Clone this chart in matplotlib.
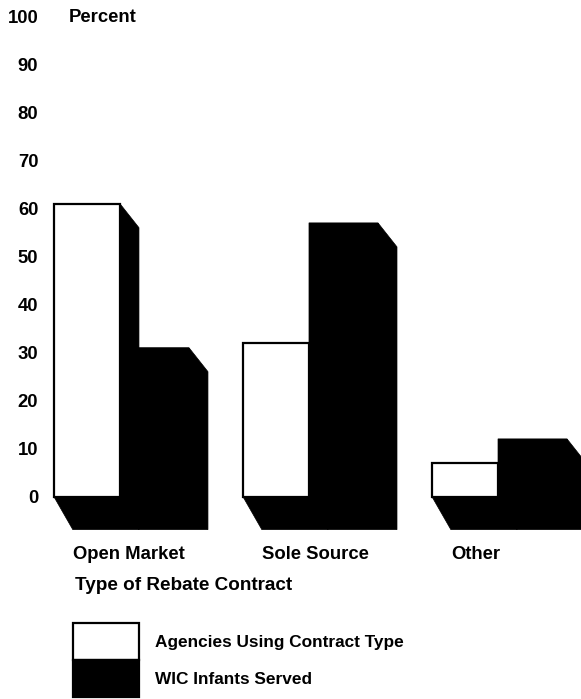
import matplotlib.pyplot as plt
from matplotlib.patches import Polygon, Rectangle

plt.rcParams["font.family"] = ["Liberation Sans", "DejaVu Sans"]
plt.rcParams["font.weight"] = "bold"

categories = ["Open Market", "Sole Source", "Other"]
agencies = [61, 32, 7]      # % of agencies using contract type
infants = [31, 57, 12]      # % of WIC infants served
yticks = [0, 10, 20, 30, 40, 50, 60, 70, 80, 90, 100]
legend_labels = ["Agencies Using Contract Type", "WIC Infants Served"]

W, H = 581, 699
fig = plt.figure(figsize=(W / 100, H / 100), dpi=100)
ax = fig.add_axes([40 / W, 1 - 544.5 / H, 541 / W, 528 / H])
ax.set_xlim(-0.423, 2.439)
ax.set_ylim(-10, 100)

white_w = 0.35
black_w = 0.365
dx = 19 / 189      # depth of the extrusion, x units
dy_top = 5.0       # drop of the top edge, y units
dy_bot = 6.9       # drop of the base, y units


def extrusion(x0, x1, h):
    pts = [(x0, 0), (x0, h), (x1, h), (x1 + dx, h - dy_top),
           (x1 + dx, -dy_bot), (x0 + dx, -dy_bot)]
    ax.add_patch(Polygon(pts, closed=True, facecolor="black",
                         edgecolor="black", lw=0.5))


# black depth first, front faces on top
for i in range(len(categories)):
    extrusion(i - white_w, i, agencies[i])
    extrusion(i, i + black_w, infants[i])

for i in range(len(categories)):
    ax.add_patch(Rectangle((i - white_w, 0), white_w, agencies[i],
                           facecolor="white", edgecolor="black", lw=1.6))
    ax.add_patch(Rectangle((i, 0), black_w, infants[i],
                           facecolor="black", edgecolor="black", lw=0.5))
    ax.text(i - white_w + dx, -12, categories[i], ha="left", va="center",
            fontsize=13.3, fontweight="bold")

ax.set_yticks(yticks)
ax.set_yticklabels([str(t) for t in yticks], fontsize=13.3, fontweight="bold")
ax.set_xticks([])
ax.tick_params(axis="y", length=0, pad=1.2)
for s in ax.spines.values():
    s.set_visible(False)

fig.text(69 / W, 1 - 18 / H, "Percent", ha="left", va="center",
         fontsize=13.3, fontweight="bold")
fig.text(75 / W, 1 - 585 / H, "Type of Rebate Contract", ha="left",
         va="center", fontsize=13.6, fontweight="bold")

# key: two stacked swatches with labels beside them
box_x, box_w, box_h = 73, 66, 37
swatch_top = [623, 660]
faces = ["white", "black"]
for top, face, label in zip(swatch_top, faces, legend_labels):
    fig.add_artist(Rectangle((box_x / W, 1 - (top + box_h) / H),
                             box_w / W, box_h / H,
                             transform=fig.transFigure, facecolor=face,
                             edgecolor="black", lw=1.6))
    fig.text(155 / W, 1 - (top + 19) / H, label, ha="left", va="center",
             fontsize=12.4, fontweight="bold")

fig.savefig("out.png", dpi=100)
